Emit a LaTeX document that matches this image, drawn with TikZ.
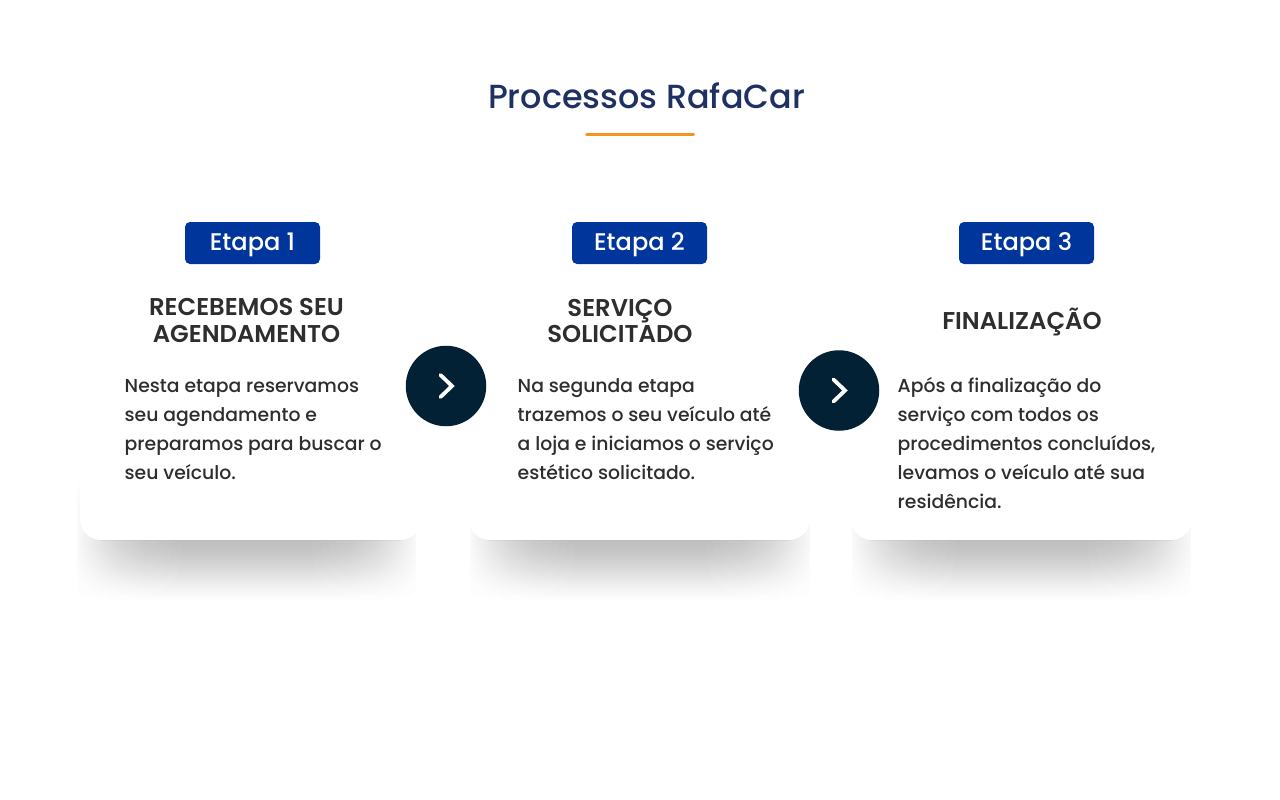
\documentclass[tikz,border=0pt]{standalone}
\usepackage{fontspec}
\usetikzlibrary{fadings}
\setmainfont{Poppins}
\newfontfamily\semi{Poppins SemiBold}
\newfontfamily\med{Poppins Medium}
\definecolor{navy}{HTML}{1F3163}
\definecolor{orangeline}{HTML}{F39322}
\definecolor{badge}{HTML}{00359C}
\definecolor{ink}{HTML}{2E2E2E}
\definecolor{disc}{HTML}{032135}
\pgfdeclarehorizontalshading{hfs}{100bp}{
  color(0bp)=(black);
  color(25bp)=(white!8!black);
  color(28bp)=(white!35!black);
  color(31bp)=(white!62!black);
  color(35bp)=(white!85!black);
  color(41bp)=(white);
  color(59bp)=(white);
  color(65bp)=(white!85!black);
  color(69bp)=(white!62!black);
  color(72bp)=(white!35!black);
  color(75bp)=(white!8!black);
  color(100bp)=(black)}
\pgfdeclarefading{hf}{\pgfuseshading{hfs}}
\tikzset{
  x=1pt,y=-1pt,
  badgebox/.style={fill=badge,rounded corners=5pt,minimum width=135pt,minimum height=42pt,inner sep=0pt,text=white,text height=14pt,text depth=0pt,font=\med\fontsize{24.1}{24}\selectfont},
  headtext/.style={align=center,text=ink,inner sep=0pt,font=\semi\fontsize{24.3}{26.5}\selectfont},
  bodytext/.style={align=left,anchor=north west,text=ink,inner sep=0pt,font=\med\fontsize{18.8}{29}\selectfont},
  discnode/.style={circle,fill=disc,minimum size=80.5pt,inner sep=0pt},
  chev/.style={draw=white,line width=3.8pt,line cap=round,line join=miter},
}
\newcommand{\cardshadow}[4]{% shadow x0, x1, card x0, x1
  \foreach \yy in {474,...,600}{
    \pgfmathsetmacro{\tt}{\yy<540 ? min(1,(\yy-474)/40) : (601-\yy)/61}
    \pgfmathsetmacro{\aa}{0.135*(0.5*\tt+0.5*\tt*\tt*(3-2*\tt))}
    \begin{scope}
      \clip (#1,\yy) rectangle (#2,\yy+1);
      \fill[black,fill opacity=\aa,path fading=hf,fit fading=true] (#1,470) rectangle (#2,610);
    \end{scope}
  }
  \fill[white,rounded corners=21pt] (#3,400) rectangle (#4,540);
  \fill[black,fill opacity=0.06] (#3+20,539.5) rectangle (#4-20,540.5);
}
\begin{document}
\begin{tikzpicture}
\useasboundingbox (0,0) rectangle (1280,800);
\fill[white] (0,0) rectangle (1280,800);
\cardshadow{77}{416}{80}{421}
\cardshadow{470}{810}{469}{810}
\cardshadow{852}{1191}{851}{1192}
\node[text=navy,inner sep=0pt,font=\med\fontsize{33.4}{36}\selectfont] (title) at (646.5,96) {Processos RafaCar};
\draw[orangeline,line width=3pt,line cap=round] (586.5,134.5) coordinate (ulA) -- (693.5,134.5) coordinate (ulB);
\node[badgebox] (b1) at (252.5,243) {Etapa 1};
\node[badgebox] (b2) at (639.5,243) {Etapa 2};
\node[badgebox] (b3) at (1026.5,243) {Etapa 3};
\node[headtext] (h1) at (246.5,320.5) {RECEBEMOS SEU\\AGENDAMENTO};
\node[headtext] (h2) at (620,321) {SERVIÇO\\SOLICITADO};
\node[headtext] (h3) at (1022,322) {FINALIZAÇÃO};
\node[bodytext] (t1) at (124.5,374.5) {\vphantom{Á}Nesta etapa reservamos\\seu agendamento e\\preparamos para buscar o\\seu veículo.};
\node[bodytext] (t2) at (517.5,374.5) {\vphantom{Á}Na segunda etapa\\trazemos o seu veículo até\\a loja e iniciamos o serviço\\estético solicitado.};
\node[bodytext] (t3) at (897.5,377.5) {Após a finalização do\\serviço com todos os\\procedimentos concluídos,\\levamos o veículo até sua\\residência.};
\node[discnode] (d1) at (446,386) {};
\node[discnode] (d2) at (839,390.5) {};
\draw[chev] ([xshift=-5.5pt,yshift=11pt]d1.center) -- ([xshift=6pt]d1.center) -- ([xshift=-5.5pt,yshift=-11pt]d1.center);
\draw[chev] ([xshift=-5.5pt,yshift=11pt]d2.center) -- ([xshift=6pt]d2.center) -- ([xshift=-5.5pt,yshift=-11pt]d2.center);
\end{tikzpicture}
\end{document}
